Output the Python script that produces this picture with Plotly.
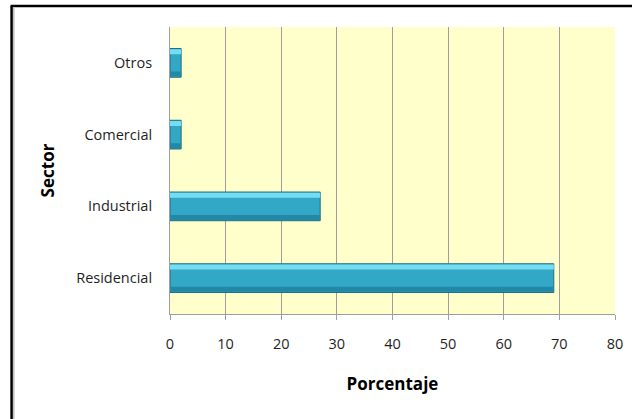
import plotly.graph_objects as go

sectors = ["Residencial", "Industrial", "Comercial", "Otros"]
values = [69, 27, 2, 2]
x_ticks = [0, 10, 20, 30, 40, 50, 60, 70, 80]

FONT = "'Open Sans', sans-serif"

fig = go.Figure()
# main bar body
fig.add_trace(go.Bar(
    y=sectors, x=values, orientation="h", width=0.4,
    marker=dict(color="#33A7C6", line=dict(color="#1E6F86", width=1)),
    hoverinfo="x+y", showlegend=False))
# lighter top highlight
fig.add_trace(go.Bar(
    y=sectors, x=values, orientation="h", width=0.07, offset=0.12,
    marker=dict(color="#74DDF2", line=dict(width=0)),
    hoverinfo="skip", showlegend=False))
# darker bottom shade
fig.add_trace(go.Bar(
    y=sectors, x=values, orientation="h", width=0.07, offset=-0.19,
    marker=dict(color="#2388A6", line=dict(width=0)),
    hoverinfo="skip", showlegend=False))

fig.update_layout(
    width=632, height=419,
    margin=dict(l=170, r=17, t=27, b=105),
    barmode="overlay",
    paper_bgcolor="white",
    plot_bgcolor="#FFFFCC",
    font=dict(family=FONT, size=14.5, color="#1F1F1F"),
    xaxis=dict(
        range=[0, 80], tickvals=x_ticks, ticktext=[str(v) for v in x_ticks],
        showgrid=True, gridcolor="#9E9E9E", gridwidth=1,
        showline=True, linecolor="#9E9E9E", linewidth=1,
        ticks="outside", ticklen=5, tickcolor="#9E9E9E",
        ticklabelstandoff=12, zeroline=False, automargin=False,
        title=dict(text="<b>Porcentaje</b>", font=dict(size=17, color="#000000"),
                   standoff=25),
    ),
    yaxis=dict(
        categoryorder="array", categoryarray=sectors,
        showgrid=False, showline=True, linecolor="#9E9E9E", linewidth=1,
        ticks="", ticklabelstandoff=14, automargin=False,
        title=dict(text="<b>Sector</b>", font=dict(size=17, color="#000000"),
                   standoff=17),
    ),
    shapes=[
        dict(type="line", xref="paper", yref="paper", x0=-0.356, x1=-0.356,
             y0=1.074, y1=-0.5, line=dict(color="black", width=2.5)),
        dict(type="line", xref="paper", yref="paper", x0=-0.358, x1=1.1,
             y0=1.073, y1=1.073, line=dict(color="black", width=2.5)),
        dict(type="line", xref="paper", yref="paper", x0=-0.351, x1=-0.351,
             y0=1.066, y1=-0.5, line=dict(color="#BFBFBF", width=1.5)),
    ],
)

fig.write_html("out.html")
